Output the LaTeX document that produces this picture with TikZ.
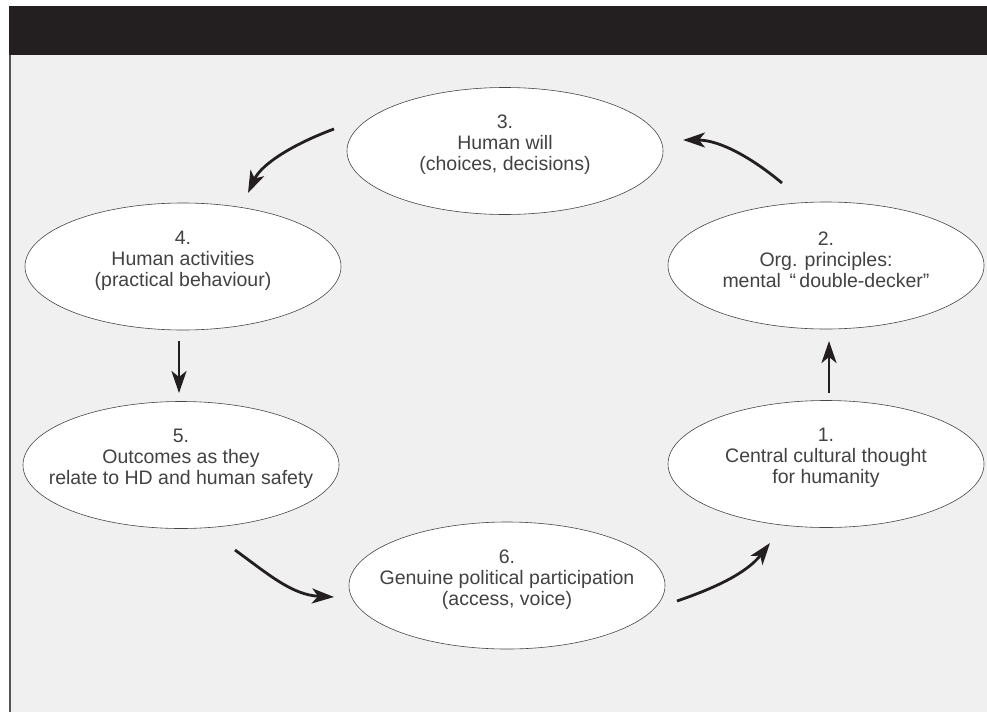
\documentclass[tikz,border=0pt]{standalone}
\usepackage{fontspec}
\setmainfont{Liberation Sans}
\usetikzlibrary{shapes.geometric,arrows.meta}

\definecolor{headbar}{RGB}{35,31,32}
\definecolor{panel}{RGB}{240,240,240}
\definecolor{edgegray}{RGB}{85,85,85}
\definecolor{inkgray}{RGB}{66,66,66}
\definecolor{rimgray}{RGB}{70,70,70}

\tikzset{
  stage/.style={ellipse, draw=rimgray, line width=0.6pt, fill=white,
    minimum width=316pt, minimum height=127pt, inner sep=0pt},
  stagetext/.style={align=center, text=inkgray,
    font=\fontsize{19.5}{21}\selectfont},
  flow/.style={line width=2.8pt, draw=headbar,
    -{Stealth[length=22pt, width=15pt, inset=6pt]}}
}

\begin{document}
\begin{tikzpicture}[x=1pt, y=-1pt]
  \useasboundingbox (0,0) rectangle (987,712);
  % panel and header
  \fill[white] (0,0) rectangle (987,712);
  \fill[panel] (10,55) rectangle (987,712);
  \fill[headbar] (9,6) rectangle (987,55);
  \draw[edgegray, line width=1.6pt] (10,55) -- (10,712);

  % the six stages
  \node[stage] (e1) at (826,464) {};
  \node[stage] (e2) at (826,265.5) {};
  \node[stage] (e3) at (505,151) {};
  \node[stage] (e4) at (183,266.5) {};
  \node[stage] (e5) at (181,465) {};
  \node[stage] (e6) at (507,585.5) {};

  \node[stagetext] (t1) at ([yshift=6pt]e1.center) {1.\\Central cultural thought\\for humanity};
  \node[stagetext] (t2) at ([yshift=6pt]e2.center) {2.\\Org. principles:\\mental \,\char"201C\,double-decker\char"201D};
  \node[stagetext] (t3) at ([yshift=6pt]e3.center) {3.\\Human will\\(choices, decisions)};
  \node[stagetext] (t4) at ([yshift=6pt]e4.center) {4.\\Human activities\\(practical behaviour)};
  \node[stagetext] (t5) at ([yshift=6pt]e5.center) {5.\\Outcomes as they\\relate to HD and human safety};
  \node[stagetext] (t6) at ([yshift=6pt]e6.center) {6.\\Genuine political participation\\(access, voice)};

  % arrow end points in the gaps between the stages
  \coordinate (s12) at (829,393);  \coordinate (f12) at (829,341);
  \coordinate (s23) at (782,183);  \coordinate (f23) at (683,140);
  \coordinate (s34) at (334,129);  \coordinate (f34) at (248,193);
  \coordinate (s45) at (179,341);  \coordinate (f45) at (179,393);
  \coordinate (s56) at (235,550);  \coordinate (f56) at (334,597);
  \coordinate (s61) at (677,601);  \coordinate (f61) at (770,543);

  % the cycle
  \draw[flow] (s12) -- (f12);
  \draw[flow] (s23) .. controls (752,158) and (720,140) .. (f23);
  \draw[flow] (s34) .. controls (296,143) and (262,163) .. (f34);
  \draw[flow] (s45) -- (f45);
  \draw[flow] (s56) .. controls (268,574) and (292,595) .. (f56);
  \draw[flow] (s61) .. controls (712,589) and (746,574) .. (f61);
\end{tikzpicture}
\end{document}
